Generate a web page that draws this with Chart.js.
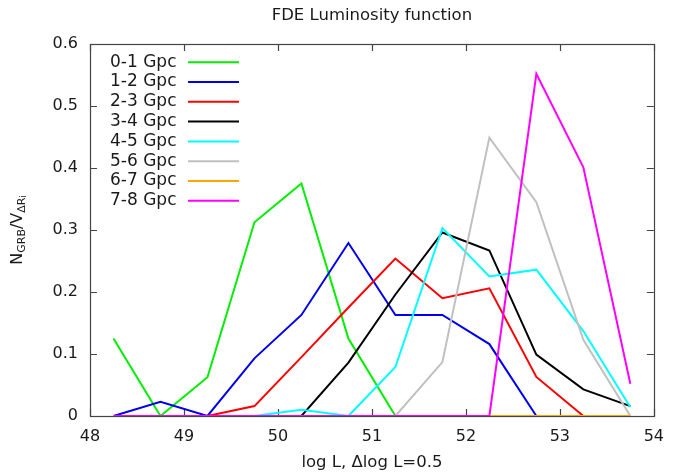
<!DOCTYPE html>
<html>
<head>
<meta charset="utf-8">
<script src="https://cdn.jsdelivr.net/npm/chart.js@4.4.0/dist/chart.umd.min.js"></script>
<style>
  html, body { margin: 0; padding: 0; background: #fff; }
  #wrap { width: 675px; height: 474px; }
</style>
</head>
<body>
<div id="wrap"><canvas id="lumChart" width="675" height="474"></canvas></div>
<script>
// bin centres, log L with step 0.5
const bins = [48.25, 48.75, 49.25, 49.75, 50.25, 50.75, 51.25, 51.75, 52.25, 52.75, 53.25, 53.75];

const labels = ['0-1 Gpc', '1-2 Gpc', '2-3 Gpc', '3-4 Gpc', '4-5 Gpc', '5-6 Gpc', '6-7 Gpc', '7-8 Gpc'];
const colors = ['#00ee00', '#0000ee', '#ff0000', '#000000', '#00ffff', '#c0c0c0', '#ffa500', '#ff00ff'];

const gpc01 = [0.125, 0, 0.0625, 0.3125, 0.375, 0.125, 0, 0, 0, 0, 0, 0];
const gpc12 = [0, 0.023, 0, 0.093, 0.163, 0.279, 0.163, 0.163, 0.116, 0, 0, 0];
const gpc23 = [0, 0, 0, 0.016, 0.095, 0.175, 0.254, 0.19, 0.206, 0.063, 0, 0];
const gpc34 = [0, 0, 0, 0, 0, 0.086, 0.196, 0.296, 0.267, 0.099, 0.043, 0.016];
const gpc45 = [0, 0, 0, 0, 0.01, 0, 0.079, 0.303, 0.225, 0.236, 0.137, 0.014];
const gpc56 = [0, 0, 0, 0, 0, 0, 0, 0.087, 0.449, 0.345, 0.123, 0];
const gpc67 = [0, 0, 0, 0, 0, 0, 0, 0, 0, 0, 0, 0];
const gpc78 = [0, 0, 0, 0, 0, 0, 0, 0, 0, 0.552, 0.401, 0.052];

const series = [gpc01, gpc12, gpc23, gpc34, gpc45, gpc56, gpc67, gpc78];

const xTicks = [48, 49, 50, 51, 52, 53, 54];
const yTicks = [0, 0.1, 0.2, 0.3, 0.4, 0.5, 0.6];

const FONT = 'DejaVu Sans, Verdana, sans-serif';
const TEXT = '#1a1a1a';

// gnuplot-ish frame with mirrored inward ticks, drawn under the lines
const gnuplotFrame = {
    id: 'gnuplotFrame',
    beforeDatasetsDraw(chart) {
        const ctx = chart.ctx;
        const a = chart.chartArea;
        const xs = chart.scales.x, ys = chart.scales.y;
        const tl = 7;

        ctx.save();
        ctx.strokeStyle = '#444';
        ctx.lineWidth = 1.2;
        ctx.beginPath();
        xTicks.forEach(v => {
            const px = Math.round(xs.getPixelForValue(v)) + 0.5;
            ctx.moveTo(px, a.bottom); ctx.lineTo(px, a.bottom - tl);
            ctx.moveTo(px, a.top); ctx.lineTo(px, a.top + tl);
        });
        yTicks.forEach(v => {
            const py = Math.round(ys.getPixelForValue(v)) + 0.5;
            ctx.moveTo(a.left, py); ctx.lineTo(a.left + tl, py);
            ctx.moveTo(a.right, py); ctx.lineTo(a.right - tl, py);
        });
        ctx.stroke();
        ctx.strokeRect(Math.round(a.left) + 0.5, Math.round(a.top) + 0.5,
            Math.round(a.right - a.left), Math.round(a.bottom - a.top));
        ctx.restore();
    },
    // key and titles
    afterDraw(chart) {
        const ctx = chart.ctx;
        const a = chart.chartArea;
        ctx.save();
        ctx.font = '17px ' + FONT;
        ctx.textBaseline = 'middle';
        ctx.textAlign = 'left';
        chart.data.datasets.forEach((ds, i) => {
            const y = 62.3 + i * 19.77;
            ctx.fillStyle = TEXT;
            ctx.fillText(ds.label, 110, y);
            ctx.strokeStyle = ds.borderColor;
            ctx.lineWidth = 2;
            ctx.beginPath();
            ctx.moveTo(188, y); ctx.lineTo(239, y);
            ctx.stroke();
        });

        ctx.fillStyle = TEXT;
        ctx.textAlign = 'center';
        ctx.font = '16.5px ' + FONT;
        ctx.fillText('FDE Luminosity function', (a.left + a.right) / 2, 16);

        ctx.font = '16.5px ' + FONT;
        ctx.fillText('log L, \u0394log L=0.5', (a.left + a.right) / 2, 463);

        const parts = [
            { t: 'N', f: '16px ' + FONT, dy: 0 },
            { t: 'GRB', f: '11px ' + FONT, dy: 4 },
            { t: '/V', f: '16px ' + FONT, dy: 0 },
            { t: '\u0394R', f: '11px ' + FONT, dy: 4 },
            { t: 'i', f: '8px ' + FONT, dy: 6 }
        ];
        let total = 0;
        parts.forEach(p => { ctx.font = p.f; p.w = ctx.measureText(p.t).width; total += p.w; });
        ctx.translate(18, (a.top + a.bottom) / 2);
        ctx.rotate(-Math.PI / 2);
        ctx.textAlign = 'left';
        let x = -total / 2;
        parts.forEach(p => {
            ctx.font = p.f;
            ctx.fillText(p.t, x, p.dy);
            x += p.w;
        });
        ctx.restore();
    }
};

const datasets = series.map((vals, i) => ({
    label: labels[i],
    data: bins.map((b, j) => ({ x: b, y: vals[j] })),
    borderColor: colors[i],
    backgroundColor: colors[i],
    borderWidth: 2,
    pointRadius: 0,
    tension: 0,
    fill: false,
    order: -i
}));

new Chart(document.getElementById('lumChart'), {
    type: 'line',
    data: { datasets: datasets },
    options: {
        responsive: false,
        animation: false,
        layout: { padding: { left: 0, top: 44, right: 16, bottom: 0 } },
        plugins: {
            legend: { display: false },
            title: { display: false },
            tooltip: { enabled: false }
        },
        scales: {
            x: {
                type: 'linear',
                min: 48,
                max: 54,
                afterBuildTicks: s => { s.ticks = xTicks.map(v => ({ value: v })); },
                ticks: { color: TEXT, font: { family: FONT, size: 16 }, padding: 11 },
                grid: { display: false, drawTicks: false },
                border: { display: false },
                afterFit: s => { s.height = 58; }
            },
            y: {
                min: 0,
                max: 0.6,
                afterBuildTicks: s => { s.ticks = yTicks.map(v => ({ value: v })); },
                ticks: {
                    color: TEXT,
                    font: { family: FONT, size: 16 },
                    padding: 12,
                    callback: v => v === 0 ? '0' : v.toFixed(1)
                },
                grid: { display: false, drawTicks: false },
                border: { display: false },
                afterFit: s => { s.width = 90; }
            }
        }
    },
    plugins: [gnuplotFrame]
});
</script>
</body>
</html>
